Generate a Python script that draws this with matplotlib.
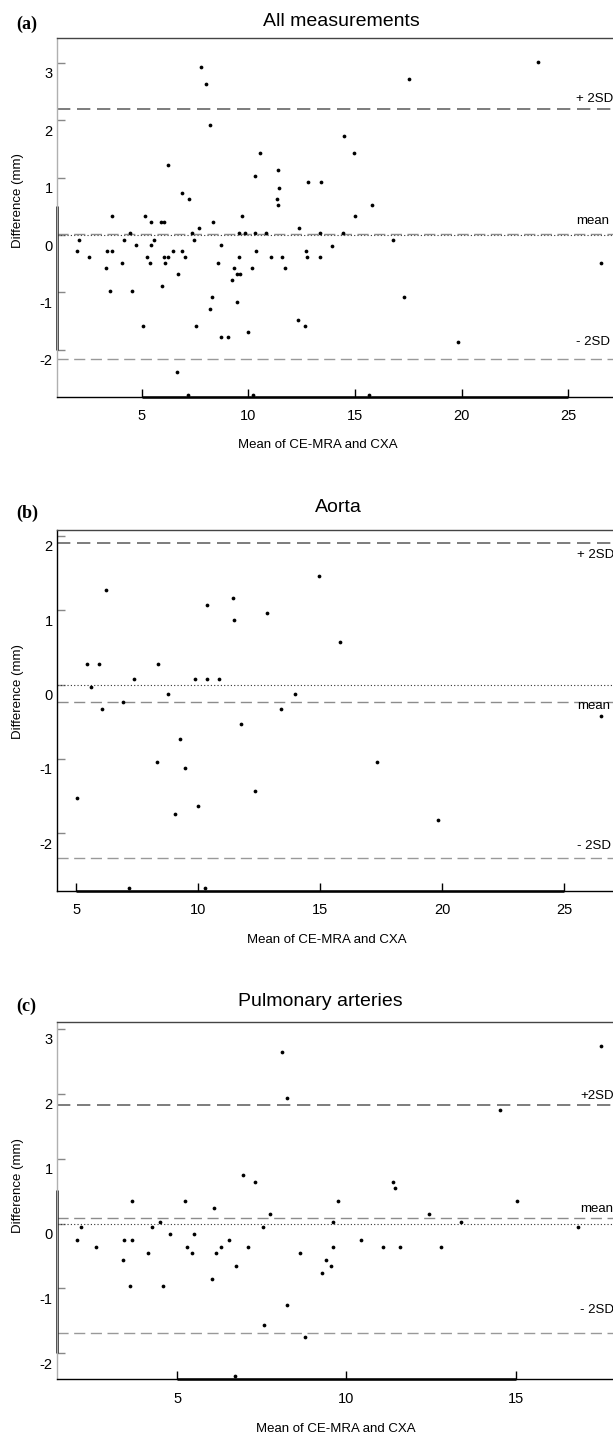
import matplotlib
matplotlib.use("Agg")
import matplotlib.pyplot as plt
import matplotlib.transforms as mtransforms

plt.rcParams['font.family'] = ['Liberation Sans', 'DejaVu Sans']
plt.rcParams['axes.unicode_minus'] = False

# ---- data ----
all_x = [1.98, 2.06, 2.53, 3.31, 3.36, 3.59, 3.59, 3.53, 4.09, 4.19, 4.45, 4.53, 4.73,
         5.05, 5.17, 5.24, 5.41, 5.44, 5.44, 5.59, 5.97, 5.92, 6.05, 6.05, 6.09, 6.22,
         6.22, 6.48, 6.64, 6.69, 6.88, 6.88, 7.03, 7.16, 7.23, 7.35, 7.47, 7.53, 7.69,
         7.80, 8.03, 8.19, 8.19, 8.30, 8.35, 8.59, 8.72, 8.73, 9.05, 9.24, 9.34, 9.46,
         9.48, 9.55, 9.55, 9.63, 9.69, 9.85, 10.0, 10.16, 10.24, 10.33, 10.33, 10.38,
         10.55, 10.83, 11.05, 11.38, 11.35, 11.38, 11.42, 11.56, 11.74, 12.31, 12.39,
         12.64, 12.69, 12.74, 12.80, 13.41, 13.36, 13.36, 13.94, 14.45, 14.49, 14.96,
         15.0, 15.80, 15.66, 16.80, 17.31, 17.52, 19.82, 23.58, 26.54]
all_y = [-0.27, -0.09, -0.38, -0.57, -0.27, 0.33, -0.27, -0.97, -0.48, -0.09, 0.03, -0.97,
         -0.18, -1.58, 0.33, -0.38, -0.48, 0.22, -0.18, -0.09, -0.88, 0.22, 0.22, -0.38,
         -0.48, -0.38, 1.22, -0.27, -2.38, -0.67, 0.73, -0.27, -0.38, -2.78, 0.63, 0.03,
         -0.09, -1.58, 0.12, 2.93, 2.63, 1.91, -1.28, -1.08, 0.22, -0.48, -0.18, -1.78,
         -1.78, -0.78, -0.57, -1.17, -0.67, -0.38, 0.03, -0.67, 0.33, 0.03, -1.68, -0.57,
         -2.78, 1.03, 0.03, -0.27, 1.42, 0.03, -0.38, 1.13, 0.63, 0.52, 0.82, -0.38,
         -0.57, -1.48, 0.12, -1.58, -0.27, -0.38, 0.92, 0.92, -0.38, 0.03, -0.19, 0.03,
         1.72, 1.42, 0.33, 0.52, -2.78, -0.09, -1.08, 2.72, -1.87, 3.02, -0.48]

aorta_x = [5.05, 5.46, 5.60, 5.94, 6.05, 6.24, 6.93, 7.36, 7.19, 8.31, 8.37, 8.76, 9.07,
           9.28, 9.47, 9.88, 10.01, 10.27, 10.36, 10.36, 10.86, 11.42, 11.46, 11.76,
           12.34, 12.81, 13.39, 13.98, 14.97, 15.83, 17.34, 19.85, 26.53]
aorta_y = [-1.53, 0.27, -0.04, 0.27, -0.33, 1.27, -0.24, 0.07, -2.74, -1.04, 0.27, -0.13,
           -1.74, -0.73, -1.13, 0.07, -1.63, -2.74, 1.07, 0.07, 0.07, 1.16, 0.87, -0.53,
           -1.43, 0.96, -0.33, -0.13, 1.46, 0.57, -1.04, -1.83, -0.43]

pulm_x = [2.05, 2.14, 2.59, 3.39, 3.42, 3.60, 3.65, 3.65, 4.14, 4.24, 4.49, 4.59, 4.78,
          5.23, 5.28, 5.42, 5.50, 6.03, 6.09, 6.14, 6.29, 6.54, 6.70, 6.73, 6.93, 7.08,
          7.29, 7.54, 7.57, 7.74, 8.08, 8.23, 8.23, 8.63, 8.77, 9.29, 9.39, 9.54, 9.59,
          9.59, 9.74, 10.43, 11.08, 11.38, 11.42, 11.59, 12.44, 12.78, 13.37, 14.53,
          15.03, 16.83, 17.52]
pulm_y = [-0.25, -0.05, -0.36, -0.56, -0.25, -0.96, 0.34, -0.25, -0.46, -0.05, 0.03,
          -0.96, -0.16, 0.34, -0.36, -0.46, -0.16, -0.86, 0.24, -0.46, -0.36, -0.25,
          -2.35, -0.66, 0.75, -0.36, 0.64, -0.05, -1.56, 0.14, 2.65, 1.94, -1.25, -0.46,
          -1.75, -0.76, -0.56, -0.66, -0.36, 0.03, 0.34, -0.25, -0.36, 0.64, 0.54, -0.36,
          0.14, -0.36, 0.03, 1.75, 0.34, -0.05, 2.74]

titles = ["All measurements", "Aorta", "Pulmonary arteries"]
tags = ["(a)", "(b)", "(c)"]
means = [0.01, -0.23, 0.08]
upper = [2.19, 1.90, 1.83]
lower = [-2.15, -2.34, -1.68]
up_text = ["+ 2SD", "+ 2SD", "+2SD"]

W, H = 613, 1438
fig = plt.figure(figsize=(W / 100, H / 100), dpi=100)


def fx(px):
    return px / W


def fy(py):
    return 1 - py / H


panels = [
    dict(x=all_x, y=all_y, top=38, bot=397, xlim=(1.03, 27.7), ylim=(-2.82, 3.43),
         yt=[-2, -1, 0, 1, 2, 3], xt=[5, 10, 15, 20, 25], fx=(5, 25), fy=(-2, 0.5),
         tag_y=24, title_x=341, title_y=21, xl_x=318, xl_y=445, yl_y=201,
         txt_x=25.35, up_y=2.37, mean_y=0.24, lo_y=-1.87, left_col='#b0b0b0'),
    dict(x=aorta_x, y=aorta_y, top=530, bot=891, xlim=(4.22, 27.54), ylim=(-2.78, 2.08),
         yt=[-2, -1, 0, 1, 2], xt=[5, 10, 15, 20, 25], fx=(5, 25), fy=None,
         tag_y=513, title_x=338, title_y=508, xl_x=327, xl_y=940, yl_y=692,
         txt_x=25.55, up_y=1.75, mean_y=-0.29, lo_y=-2.17, left_col='black'),
    dict(x=pulm_x, y=pulm_y, top=1022.3, bot=1379.3, xlim=(1.445, 18.26), ylim=(-2.40, 3.10),
         yt=[-2, -1, 0, 1, 2, 3], xt=[5, 10, 15], fx=(5, 15), fy=(-2, 0.52),
         tag_y=1006, title_x=320, title_y=1002, xl_x=336, xl_y=1429, yl_y=1186,
         txt_x=16.9, up_y=1.97, mean_y=0.22, lo_y=-1.33, left_col='#b0b0b0'),
]

for i, p in enumerate(panels):
    left, right = 57, 626
    ax = fig.add_axes([fx(left), fy(p['bot']), (right - left) / W, (p['bot'] - p['top']) / H])
    ax.set_xlim(*p['xlim'])
    ax.set_ylim(*p['ylim'])

    # reference lines
    ax.axhline(0, color='#333333', ls=(0, (1, 2)), lw=0.8)
    ax.axhline(means[i], color='#8c8c8c', ls=(0, (8, 4)), lw=1.0)
    ax.axhline(upper[i], color='#666666', ls=(0, (8, 4)), lw=1.2)
    ax.axhline(lower[i], color='#999999', ls=(0, (8, 4)), lw=1.0)

    ax.plot(p['x'], p['y'], 'o', color='black', ms=2.7, mew=0, clip_on=False)

    ax.text(p['txt_x'], p['up_y'], up_text[i], fontsize=9.5, va='center', ha='left')
    ax.text(p['txt_x'], p['mean_y'], "mean", fontsize=9.5, va='center', ha='left')
    ax.text(p['txt_x'], p['lo_y'], "- 2SD", fontsize=9.5, va='center', ha='left')

    # spines
    ax.spines['right'].set_visible(False)
    ax.spines['top'].set_color('#444444')
    ax.spines['left'].set_color(p['left_col'])
    ax.spines['bottom'].set_color('black')
    for s in ax.spines.values():
        s.set_linewidth(1.0)

    # range frame segments
    y0 = p['ylim'][0]
    ax.plot(list(p['fx']), [y0, y0], color='black', lw=1.8, clip_on=False,
            solid_capstyle='butt')
    if p['fy'] is not None:
        x0 = p['xlim'][0]
        ax.plot([x0, x0], list(p['fy']), color='black', lw=1.8, clip_on=False,
                solid_capstyle='butt')

    ax.set_yticks(p['yt'])
    ax.set_yticklabels([str(v) for v in p['yt']])
    ax.set_xticks(p['xt'])
    ax.tick_params(axis='y', direction='in', length=6, width=1, color='#888888',
                   labelsize=10.5, pad=3)
    ax.tick_params(axis='x', direction='in', length=6, width=1, color='black',
                   labelsize=10.5, pad=9)
    shift = mtransforms.ScaledTranslation(0, -10 / 100, fig.dpi_scale_trans)
    for lab in ax.get_yticklabels():
        lab.set_transform(lab.get_transform() + shift)

    fig.text(fx(16), fy(p['tag_y']), tags[i], fontsize=13, fontweight='bold',
             family='Liberation Serif', va='center', ha='left')
    fig.text(fx(p['title_x']), fy(p['title_y']), titles[i], fontsize=14,
             va='center', ha='center')
    fig.text(fx(p['xl_x']), fy(p['xl_y']), "Mean of CE-MRA and CXA", fontsize=9.5,
             va='center', ha='center')
    fig.text(fx(18), fy(p['yl_y']), "Difference (mm)", fontsize=9.5, rotation=90,
             va='center', ha='center')

fig.savefig("out.png", dpi=100)
